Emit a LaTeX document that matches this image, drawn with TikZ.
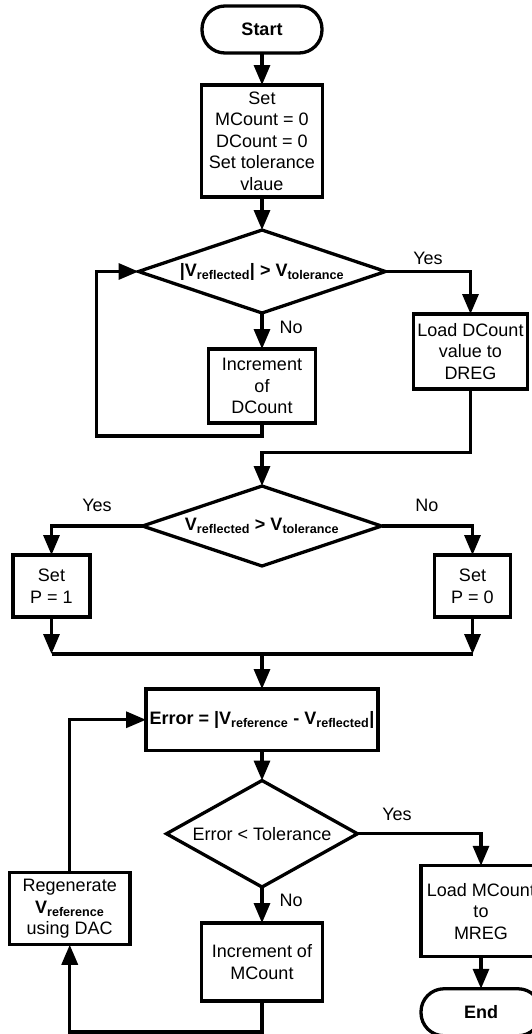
\documentclass[tikz,border=0pt]{standalone}
\usepackage{fontspec}
\setmainfont{Liberation Sans}
\usetikzlibrary{shapes.geometric,arrows.meta,positioning,calc}

\newcommand{\vsub}[1]{V\textsubscript{#1}}

\begin{document}
\begin{tikzpicture}[
  x=1pt, y=1pt,
  node distance=32pt,
  base/.style={draw, line width=3.3pt, inner sep=0pt, outer sep=0pt, align=center, font=\fontsize{18}{21.6}\selectfont},
  term/.style={base, rounded corners=23pt, minimum width=120pt, minimum height=47pt, font=\fontsize{18}{21.6}\selectfont\bfseries},
  proc/.style={base},
  dec/.style={base, diamond, aspect=3.1},
  lbl/.style={font=\fontsize{18}{21.6}\selectfont, inner sep=2pt},
  flow/.style={line width=3.3pt, -{Triangle[length=20pt, width=16pt]}},
  link/.style={line width=3.3pt}
]
\useasboundingbox (0,0) rectangle (531,-1034);

\node[term] (start) at (262,-29.5) {Start};
\node[proc, below=32pt of start, minimum width=121pt, minimum height=112pt] (init) {Set\\MCount = 0\\DCount = 0\\Set tolerance\\vlaue};
\node[dec, below=33pt of init, minimum width=247pt, minimum height=83pt] (chkabs) {\bfseries |\vsub{reflected}| > \vsub{tolerance}};
\node[proc, below=36pt of chkabs, minimum width=107pt, minimum height=74pt] (incd) {Increment\\of\\DCount};
\node[proc, below right=42.5pt and 28pt of chkabs.east, minimum width=114pt, minimum height=75pt] (ldd) {Load DCount\\value to\\DREG};

\node[dec, below=63pt of incd, minimum width=239pt, minimum height=80pt] (chksgn) {\bfseries \vsub{reflected} > \vsub{tolerance}};
\node[proc, below left=29pt and 52.5pt of chksgn.west, minimum width=77pt, minimum height=62pt] (setone) {Set\\P = 1};
\node[proc, below right=29pt and 53pt of chksgn.east, minimum width=76pt, minimum height=62pt] (setzero) {Set\\P = 0};

\node[proc, below=123pt of chksgn, minimum width=232pt, minimum height=61.5pt] (err) {\bfseries Error = |\vsub{reference} - \vsub{reflected}|};
\coordinate[above=35pt of err.north] (join);
\node[dec, aspect=2, below=30pt of err, minimum width=191pt, minimum height=106.5pt] (chkerr) {Error < Tolerance};
\node[proc, below=36pt of chkerr, minimum width=121pt, minimum height=78pt] (incm) {Increment of\\MCount};
\node[proc, below right=32pt and 63.5pt of chkerr.east, minimum width=120pt, minimum height=91pt] (ldm) {Load MCount\\to\\MREG};
\node[term, below=32pt of ldm] (end) {End};
\node[proc, below left=153pt and 16pt of err.west, minimum width=120.5pt, minimum height=72pt] (regen) {Regenerate\\\textbf{\vsub{reference}}\\using DAC};

% first check loop
\draw[flow] (start) -- (init);
\draw[flow] (init) -- (chkabs);
\draw[flow] (chkabs.east) -| node[lbl, above=3pt, pos=0.25] {Yes} (ldd.north);
\draw[flow] (chkabs) -- node[lbl, right=14pt, pos=0.4] {No} (incd);
\draw[flow] (incd.south) -- ++(0,-13) -| ([xshift=-42pt]chkabs.west) -- (chkabs.west);
\draw[flow] (ldd.south) -- ++(0,-63.5) -| (chksgn.north);

% sign
\draw[flow] (chksgn.west) -| node[lbl, above=11pt, pos=0.25] {Yes} (setone.north);
\draw[flow] (chksgn.east) -| node[lbl, above=11pt, pos=0.25] {No} (setzero.north);
\draw[flow] (setone.south) -- (setone.south |- join);
\draw[flow] (setzero.south) -- (setzero.south |- join);
\draw[link] (setone.south |- join) -- (setzero.south |- join);
\draw[flow] (join) -- (err);

% error loop
\draw[flow] (err) -- (chkerr);
\draw[flow] (chkerr.east) -| node[lbl, above=9pt, pos=0.16] {Yes} (ldm.north);
\draw[flow] (chkerr) -- node[lbl, right=14pt, pos=0.36] {No} (incm);
\draw[flow] (ldm) -- (end);
\draw[flow] (incm.south) -- ++(0,-31) -| (regen.south);
\draw[flow] (regen.north) |- (err.west);
\end{tikzpicture}
\end{document}
